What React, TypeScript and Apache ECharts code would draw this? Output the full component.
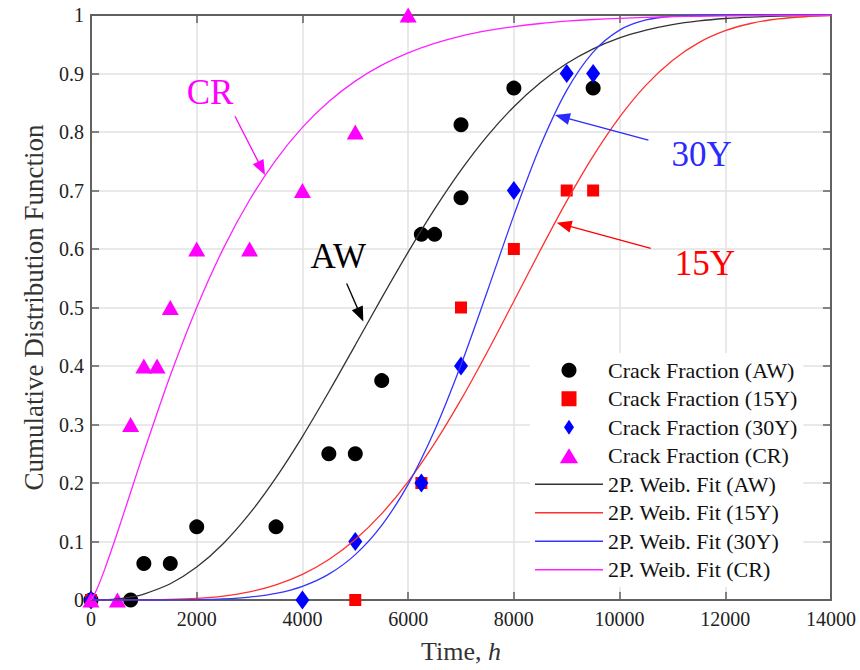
import React, { useEffect, useRef } from "react";
import * as echarts from "echarts";

// ---- measured crack fractions ----
const awTime = [0, 750, 1000, 1500, 2000, 3500, 4500, 5000, 5500, 6250, 6500, 7000, 7000, 8000, 9500];
const awFrac = [0, 0, 0.0625, 0.0625, 0.125, 0.125, 0.25, 0.25, 0.375, 0.625, 0.625, 0.6875, 0.8125, 0.875, 0.875];
const y15Time = [0, 5000, 6250, 7000, 8000, 9000, 9500];
const y15Frac = [0, 0, 0.2, 0.5, 0.6, 0.7, 0.7];
const y30Time = [0, 4000, 5000, 6250, 7000, 8000, 9000, 9500];
const y30Frac = [0, 0, 0.1, 0.2, 0.4, 0.7, 0.9, 0.9];
const crTime = [0, 500, 750, 1000, 1250, 1500, 2000, 3000, 4000, 5000, 6000];
const crFrac = [0, 0, 0.3, 0.4, 0.4, 0.5, 0.6, 0.6, 0.7, 0.8, 1.0];

// ---- fitted curves ----
const fitTime = [0, 100, 250, 500, 750, 1000, 1500, 2000, 2500, 3000, 3500, 4000, 4500, 5000, 5500, 6000, 6500, 7000, 7500, 8000, 8500, 9000, 9500, 10000, 10500, 11000, 11500, 12000, 12500, 13000, 13500, 14000];
const awFit = [0, 0, 0.0003, 0.0018, 0.005, 0.0102, 0.0278, 0.0563, 0.0962, 0.1475, 0.2092, 0.2794, 0.3559, 0.4358, 0.5164, 0.5946, 0.6681, 0.7349, 0.7935, 0.8433, 0.8843, 0.917, 0.9421, 0.9608, 0.9742, 0.9836, 0.9899, 0.994, 0.9965, 0.998, 0.9989, 0.9995];
const y15Fit = [0, 0, 0, 0, 0.0001, 0.0002, 0.0009, 0.0028, 0.0068, 0.014, 0.0259, 0.0437, 0.0691, 0.1034, 0.1476, 0.2024, 0.2677, 0.3424, 0.4244, 0.5108, 0.5979, 0.6819, 0.7588, 0.8255, 0.8802, 0.9224, 0.9528, 0.9732, 0.9859, 0.9932, 0.997, 0.9988];
const y30Fit = [0, 0, 0, 0, 0, 0, 0.0001, 0.0005, 0.0018, 0.0049, 0.0113, 0.0234, 0.0442, 0.0776, 0.1276, 0.1977, 0.2896, 0.4021, 0.5283, 0.6575, 0.7759, 0.8711, 0.9366, 0.9742, 0.9916, 0.9979, 0.9996, 1, 1, 1, 1, 1];
const crFit = [0, 0.0163, 0.0502, 0.1154, 0.1842, 0.2529, 0.3838, 0.5002, 0.6002, 0.6838, 0.7524, 0.8079, 0.8521, 0.887, 0.9142, 0.9353, 0.9515, 0.9639, 0.9732, 0.9802, 0.9855, 0.9894, 0.9923, 0.9944, 0.996, 0.9971, 0.9979, 0.9985, 0.9989, 0.9993, 0.9995, 0.9996];

// ---- annotations (data coordinates) ----
const annotText = ["CR", "AW", "30Y", "15Y"];
const annotTextAt = [[2251, 0.868], [4679, 0.587], [11552, 0.761], [11616, 0.5755]];
const annotFrom = [[2724, 0.827], [4837, 0.541], [10545, 0.786], [10590, 0.601]];
const annotTo = [[3292, 0.7265], [5152, 0.476], [8778, 0.829], [8810, 0.645]];
const annotColor = ["#ff00ff", "#000000", "#2a2aff", "#ff0000"];

const FONT = '"Liberation Serif", "Times New Roman", serif';
const LINE_ICON = "path://M0,0L68,0L68,1.6L0,1.6Z";

const pairs = (xs: number[], ys: number[]) => xs.map((x, i) => [x, ys[i]]);

export default function App() {
  const ref = useRef<HTMLDivElement>(null);
  useEffect(() => {
    if (!ref.current) return;
    const chart = echarts.init(ref.current, undefined, { renderer: "svg" });
    const axisLineStyle = { color: "#616161", width: 2 };
    const tickStyle = { color: "#616161", width: 1.5 };
    const fitLine = (name: string, ys: number[], color: string) => ({
      type: "line", name, data: pairs(fitTime, ys), symbol: "none", showSymbol: false,
      smooth: 0.3, color, lineStyle: { color, width: 1.3 }, itemStyle: { color }, z: 4,
    });
    const option: any = {
      animation: false,
      backgroundColor: "#ffffff",
      grid: { left: 91, top: 15, width: 740, height: 585, containLabel: false },
      xAxis: [
        {
          type: "value", min: 0, max: 14000, interval: 2000, position: "bottom",
          axisLine: { show: true, onZero: false, lineStyle: axisLineStyle },
          axisTick: { show: true, inside: true, length: 8, lineStyle: tickStyle },
          splitLine: { show: true, lineStyle: { color: "#e2e2e2", width: 1.5 } },
          axisLabel: { fontFamily: FONT, fontSize: 20, color: "#222", margin: 9, formatter: (v: number) => String(v) },
          name: "Time, {i|h}", nameLocation: "middle", nameGap: 38,
          nameTextStyle: {
            fontFamily: FONT, fontSize: 26, color: "#333",
            rich: { i: { fontFamily: FONT, fontSize: 26, fontStyle: "italic", color: "#333" } },
          },
        },
        {
          type: "value", min: 0, max: 14000, interval: 2000, position: "top",
          axisLine: { show: true, onZero: false, lineStyle: axisLineStyle },
          axisTick: { show: true, inside: true, length: 8, lineStyle: tickStyle },
          splitLine: { show: false }, axisLabel: { show: false },
        },
      ],
      yAxis: [
        {
          type: "value", min: 0, max: 1, interval: 0.1, position: "left",
          axisLine: { show: true, onZero: false, lineStyle: axisLineStyle },
          axisTick: { show: true, inside: true, length: 8, lineStyle: tickStyle },
          splitLine: { show: true, lineStyle: { color: "#e2e2e2", width: 1.5 } },
          axisLabel: { fontFamily: FONT, fontSize: 20, color: "#222", margin: 7, formatter: (v: number) => String(v) },
          name: "Cumulative Distribution Function", nameLocation: "middle", nameGap: 44,
          nameTextStyle: { fontFamily: FONT, fontSize: 27, color: "#333" },
        },
        {
          type: "value", min: 0, max: 1, interval: 0.1, position: "right",
          axisLine: { show: true, onZero: false, lineStyle: axisLineStyle },
          axisTick: { show: true, inside: true, length: 8, lineStyle: tickStyle },
          splitLine: { show: false }, axisLabel: { show: false },
        },
      ],
      legend: {
        orient: "vertical", left: 530, top: 353,
        itemWidth: 68, itemHeight: 15, itemGap: 6, itemTextGap: 4,
        backgroundColor: "#ffffff", padding: [6, 6, 6, 5],
        textStyle: { fontFamily: FONT, fontSize: 22, color: "#111", lineHeight: 22.5 },
        data: [
          { name: "Crack Fraction (AW)", icon: "circle" },
          { name: "Crack Fraction (15Y)", icon: "path://M0,0L12,0L12,12L0,12Z" },
          { name: "Crack Fraction (30Y)", icon: "path://M6,0L12,9L6,18L0,9Z" },
          { name: "Crack Fraction (CR)", icon: "path://M0,14L8.5,0L17,14Z" },
          { name: "2P. Weib. Fit (AW)", icon: LINE_ICON },
          { name: "2P. Weib. Fit (15Y)", icon: LINE_ICON },
          { name: "2P. Weib. Fit (30Y)", icon: LINE_ICON },
          { name: "2P. Weib. Fit (CR)", icon: LINE_ICON },
        ],
      },
      series: [
        { type: "scatter", name: "Crack Fraction (AW)", data: pairs(awTime, awFrac), symbol: "circle", symbolSize: 15, itemStyle: { color: "#000000", opacity: 1 }, z: 3 },
        { type: "scatter", name: "Crack Fraction (15Y)", data: pairs(y15Time, y15Frac), symbol: "rect", symbolSize: 12, itemStyle: { color: "#ff0000", opacity: 1 }, z: 3 },
        { type: "scatter", name: "Crack Fraction (30Y)", data: pairs(y30Time, y30Frac), symbol: "diamond", symbolSize: [14, 19], itemStyle: { color: "#0000ff", opacity: 1 }, z: 3 },
        { type: "scatter", name: "Crack Fraction (CR)", data: pairs(crTime, crFrac), symbol: "triangle", symbolSize: [17, 15], itemStyle: { color: "#ff00ff", opacity: 1 }, z: 3 },
        fitLine("2P. Weib. Fit (AW)", awFit, "#333333"),
        fitLine("2P. Weib. Fit (15Y)", y15Fit, "#ff3030"),
        fitLine("2P. Weib. Fit (30Y)", y30Fit, "#3535ff"),
        fitLine("2P. Weib. Fit (CR)", crFit, "#ff22ff"),
      ],
    };
    chart.setOption(option);

    const els: any[] = [];
    for (let i = 0; i < annotText.length; i++) {
      const pt = chart.convertToPixel({ gridIndex: 0 }, annotTextAt[i]) as number[];
      const p0 = chart.convertToPixel({ gridIndex: 0 }, annotFrom[i]) as number[];
      const p1 = chart.convertToPixel({ gridIndex: 0 }, annotTo[i]) as number[];
      const dx = p1[0] - p0[0];
      const dy = p1[1] - p0[1];
      const len = Math.sqrt(dx * dx + dy * dy) || 1;
      const ux = dx / len, uy = dy / len;
      const L = 15, W = 6;
      const bx = p1[0] - ux * L, by = p1[1] - uy * L;
      const nx = -uy, ny = ux;
      els.push({
        type: "text", x: pt[0], y: pt[1], z: 10,
        style: {
          text: annotText[i], fill: annotColor[i], fontFamily: FONT, fontSize: 35,
          textAlign: "center", textVerticalAlign: "middle", align: "center", verticalAlign: "middle",
        },
      });
      els.push({
        type: "line", z: 10,
        shape: { x1: p0[0], y1: p0[1], x2: bx + ux * 2, y2: by + uy * 2 },
        style: { stroke: annotColor[i], lineWidth: 1.3 },
      });
      els.push({
        type: "polygon", z: 10,
        shape: { points: [[p1[0], p1[1]], [bx + nx * W, by + ny * W], [bx - nx * W, by - ny * W]] },
        style: { fill: annotColor[i] },
      });
    }
    chart.setOption({ graphic: { elements: els } });

    return () => chart.dispose();
  }, []);
  return (
    <div
      ref={ref}
      style={{ position: "absolute", left: 0, top: 0, width: 860, height: 670, background: "#fff" }}
    />
  );
}
